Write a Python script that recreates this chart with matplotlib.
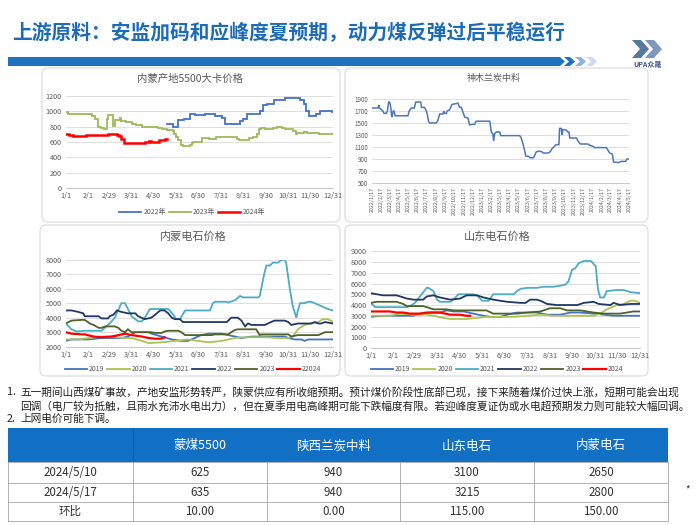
import matplotlib.pyplot as plt
from matplotlib.patches import Rectangle, FancyBboxPatch, Polygon
import pandas as pd

plt.rcParams['font.family'] = ['Noto Sans CJK SC', 'DejaVu Sans']

W, H = 700, 525

# ---- data ----
title = '上游原料：安监加码和应峰度夏预期，动力煤反弹过后平稳运行'
note1 = '五一期间山西煤矿事故，产地安监形势转严，陕蒙供应有所收缩预期。预计煤价阶段性底部已现，接下来随着煤价过快上涨，短期可能会出现'
note2 = '回调（电厂较为抵触，且雨水充沛水电出力），但在夏季用电高峰期可能下跌幅度有限。若迎峰度夏证伪或水电超预期发力则可能较大幅回调。'
note3 = '上网电价可能下调。'

day_ticks = [0, 31, 59, 90, 120, 151, 181, 212, 243, 273, 304, 334, 365]
day_labels = ['1/1', '2/1', '2/29', '3/31', '4/30', '5/31', '6/30', '7/31',
              '8/31', '9/30', '10/31', '11/30', '12/31']

# 内蒙产地5500大卡价格 (day of year, price), step values
mm2022 = [(138, 840), (146, 790), (154, 890), (162, 900), (170, 970), (176, 950), (190, 960),
          (204, 940), (214, 910), (217, 840), (238, 870), (242, 900), (248, 960), (258, 970),
          (266, 1000), (270, 1080), (275, 1100), (284, 1150), (300, 1170), (320, 1150),
          (325, 1100), (328, 1000), (332, 940), (342, 960), (347, 1000), (363, 990), (365, 990)]
mm2023 = [(0, 990), (3, 970), (30, 960), (36, 940), (40, 900), (44, 800), (48, 780), (52, 770),
          (56, 900), (58, 950), (64, 940), (65, 810), (67, 890), (74, 910), (76, 880), (82, 860),
          (90, 840), (96, 820), (104, 800), (108, 790), (126, 780), (132, 770), (138, 760),
          (146, 740), (148, 700), (151, 660), (154, 620), (157, 560), (160, 550), (170, 560),
          (172, 590), (174, 600), (186, 650), (195, 640), (205, 660), (212, 670), (228, 660),
          (234, 640), (237, 620), (245, 630), (250, 650), (256, 660), (261, 700), (264, 770),
          (267, 780), (272, 770), (283, 780), (288, 800), (296, 780), (300, 770), (311, 740),
          (314, 710), (316, 720), (326, 730), (330, 720), (346, 710), (358, 700), (365, 700)]
mm2024 = [(0, 700), (5, 690), (10, 680), (28, 690), (58, 700), (70, 690), (73, 680), (76, 640),
          (80, 590), (108, 600), (114, 610), (117, 600), (127, 620), (131, 630), (136, 640), (138, 640)]

# 神木兰炭中料 (days since 2022-01-17, price)
sm_start = '2022-01-17'
sm = [(0, 1750), (20, 1750), (23, 1800), (25, 1750), (36, 1700), (40, 1660), (47, 1660), (51, 1700),
      (55, 1850), (58, 1850), (61, 1800), (65, 1620), (67, 1600), (70, 1700), (73, 1700), (77, 1620),
      (119, 1620), (123, 1700), (130, 1750), (140, 1750), (145, 1850), (161, 1850), (164, 1760),
      (174, 1760), (180, 1700), (183, 1650), (187, 1530), (191, 1500), (213, 1500), (218, 1540),
      (224, 1650), (235, 1650), (238, 1700), (241, 1660), (246, 1660), (249, 1700), (257, 1720),
      (265, 1810), (285, 1830), (290, 1760), (296, 1760), (301, 1680), (307, 1600), (318, 1580),
      (323, 1470), (340, 1480), (345, 1530), (390, 1530), (395, 1350), (400, 1320), (403, 1200),
      (406, 1320), (412, 1350), (423, 1350), (426, 1290), (489, 1290), (494, 1250), (500, 1150),
      (505, 1050), (509, 950), (520, 940), (524, 920), (535, 920), (544, 1020), (555, 1030),
      (563, 1020), (566, 1000), (583, 1000), (590, 1020), (597, 1080), (602, 1100), (610, 1140),
      (619, 1140), (621, 1410), (627, 1410), (629, 1300), (632, 1390), (644, 1380), (648, 1350),
      (652, 1350), (655, 1250), (677, 1250), (682, 1200), (690, 1150), (715, 1150), (721, 1130),
      (732, 1110), (737, 1090), (776, 1090), (781, 1050), (787, 1000), (796, 980), (800, 850),
      (815, 840), (826, 860), (840, 860), (844, 900), (851, 900)]
sm_labels = ['2022/1/17', '2022/2/17', '2022/3/17', '2022/4/17', '2022/5/17', '2022/6/17',
             '2022/7/17', '2022/8/17', '2022/9/17', '2022/10/17', '2022/11/17', '2022/12/17',
             '2023/1/17', '2023/2/17', '2023/3/17', '2023/4/17', '2023/5/17', '2023/6/17',
             '2023/7/17', '2023/8/17', '2023/9/17', '2023/10/17', '2023/11/17', '2023/12/17',
             '2024/1/17', '2024/2/17', '2024/3/17', '2024/4/17', '2024/5/17']

# 内蒙电石价格
nm2019 = [(0, 2400), (8, 2500), (31, 2500), (49, 2600), (76, 2600), (85, 2700), (92, 2900), (95, 3000),
          (113, 3000), (117, 2900), (131, 2700), (145, 2500), (158, 2400), (167, 2400), (176, 2600),
          (185, 2800), (195, 2900), (213, 2900), (222, 2800), (240, 2600), (254, 2700), (299, 2700),
          (304, 2600), (313, 2500), (322, 2500), (326, 2400), (331, 2500), (365, 2500)]
nm2020 = [(0, 2500), (17, 2500), (31, 2600), (49, 2700), (67, 2700), (76, 2600), (90, 2600), (104, 2400),
          (113, 2250), (131, 2300), (149, 2400), (167, 2500), (181, 2400), (195, 2300), (213, 2400),
          (231, 2600), (240, 2650), (276, 2650), (290, 2600), (304, 2600), (310, 2700), (317, 3200),
          (326, 3500), (335, 3600), (345, 3700), (351, 3900), (358, 3900), (365, 3700)]
nm2021 = [(0, 3600), (8, 3200), (15, 3050), (26, 3100), (49, 3100), (51, 3200), (60, 3600), (67, 4000),
          (76, 5000), (81, 5000), (85, 4600), (90, 4100), (95, 3900), (99, 3750), (104, 3750), (108, 4000),
          (115, 4600), (140, 4600), (142, 4500), (147, 4200), (151, 3900), (156, 3900), (163, 4500),
          (197, 4500), (201, 5000), (204, 5100), (220, 5100), (222, 5050), (231, 5200), (238, 5500),
          (242, 5400), (263, 5400), (265, 5500), (267, 6000), (271, 7000), (274, 7600), (279, 7600),
          (283, 7800), (290, 7800), (295, 8000), (299, 8000), (301, 7800), (306, 6000), (310, 4800),
          (315, 4000), (317, 4500), (320, 5000), (326, 5000), (331, 5100), (335, 5100), (340, 5000),
          (349, 4800), (358, 4600), (365, 4500)]
nm2022 = [(0, 4500), (8, 4500), (17, 4400), (24, 4300), (26, 4100), (45, 4100), (49, 3950), (58, 3950),
          (60, 4100), (65, 4200), (70, 4500), (76, 4400), (85, 4300), (95, 4300), (99, 4100), (108, 3900),
          (117, 4000), (122, 4200), (129, 4500), (135, 4500), (140, 4300), (145, 4000), (149, 3900),
          (156, 3900), (160, 3700), (220, 3700), (222, 3800), (226, 4000), (235, 4000), (240, 3800),
          (245, 3400), (249, 3600), (254, 3500), (272, 3500), (276, 3600), (285, 3800), (299, 3800),
          (304, 3700), (308, 3500), (317, 3600), (335, 3600), (340, 3700), (345, 3600), (349, 3600),
          (354, 3700), (365, 3600)]
nm2023 = [(0, 3600), (8, 3800), (22, 3850), (26, 3850), (33, 3600), (38, 3500), (45, 3300), (49, 3300),
          (54, 3400), (67, 3400), (72, 3300), (76, 3100), (81, 3000), (85, 3200), (90, 3000), (117, 3000),
          (122, 2950), (131, 2950), (135, 3050), (140, 3100), (154, 3100), (158, 3000), (163, 2800),
          (199, 2800), (204, 2850), (222, 2850), (226, 3000), (231, 3150), (235, 3200), (260, 3200),
          (265, 2800), (267, 2850), (304, 2850), (308, 2700), (317, 2800), (345, 2800), (354, 3000),
          (365, 3000)]
nm2024 = [(0, 3000), (8, 2900), (22, 2850), (26, 2850), (38, 2700), (49, 2650), (63, 2700), (72, 2800),
          (81, 2900), (90, 2800), (104, 2700), (113, 2600), (122, 2550), (129, 2550), (133, 2600), (135, 2650)]

# 山东电石价格
sd2019 = [(0, 2900), (17, 3000), (58, 3000), (67, 3200), (81, 3300), (94, 3300), (103, 3500), (112, 3400),
          (126, 3400), (139, 3200), (153, 3000), (162, 2900), (176, 2900), (185, 3100), (198, 3300),
          (225, 3300), (239, 3100), (257, 3100), (271, 3300), (284, 3300), (302, 3200), (316, 3100),
          (329, 3000), (365, 3000)]
sd2020 = [(0, 3000), (26, 3000), (40, 3200), (58, 3100), (76, 3100), (85, 3000), (99, 2800), (108, 2700),
          (130, 2700), (144, 2800), (157, 2900), (194, 2900), (212, 3000), (230, 3100), (248, 3000),
          (302, 3000), (311, 3200), (320, 3600), (327, 3800), (334, 4000), (343, 4100), (352, 4400),
          (358, 4400), (365, 4200)]
sd2021 = [(0, 4200), (6, 3800), (49, 3800), (53, 3900), (60, 4200), (69, 5000), (76, 5600), (78, 5600),
          (85, 5300), (90, 4500), (94, 4300), (108, 4300), (112, 4500), (119, 5000), (139, 5000),
          (144, 4900), (151, 4400), (160, 4400), (166, 5000), (194, 5000), (198, 5300), (203, 5500),
          (212, 5600), (225, 5600), (234, 5700), (248, 5700), (257, 5800), (264, 5900), (268, 6200),
          (273, 7300), (277, 7400), (282, 7900), (289, 8100), (298, 8100), (300, 8000), (305, 7600),
          (308, 5500), (311, 4700), (316, 4700), (320, 5300), (334, 5400), (343, 5400), (352, 5200),
          (365, 5100)]
sd2022 = [(0, 5100), (17, 4900), (35, 4900), (40, 4800), (49, 4600), (58, 4500), (71, 4500), (76, 4800),
          (85, 4900), (94, 4700), (108, 4500), (121, 4600), (130, 4900), (144, 4900), (153, 4700),
          (166, 4500), (185, 4300), (203, 4200), (210, 4200), (216, 4500), (225, 4500), (230, 4400),
          (239, 4100), (252, 4000), (280, 4000), (289, 4200), (302, 4300), (309, 4100), (325, 4000),
          (329, 4200), (338, 4000), (352, 4100), (365, 4100)]
sd2023 = [(0, 4200), (8, 4300), (35, 4300), (44, 4100), (49, 3900), (71, 3900), (76, 3800), (85, 3600),
          (103, 3600), (112, 3500), (157, 3500), (166, 3200), (198, 3200), (212, 3300), (230, 3400),
          (243, 3700), (257, 3700), (266, 3500), (284, 3500), (302, 3300), (316, 3200), (338, 3200),
          (356, 3400), (365, 3400)]
sd2024 = [(0, 3400), (26, 3400), (35, 3300), (44, 3300), (53, 3200), (67, 3200), (76, 3300), (94, 3300),
          (108, 3100), (121, 3100), (130, 3000), (135, 3000)]

tbl_cols = ['蒙煤5500', '陕西兰炭中料', '山东电石', '内蒙电石']
tbl_rows = ['2024/5/10', '2024/5/17', '环比']
tbl_0510 = [625, 940, 3100, 2650]
tbl_0517 = [635, 940, 3215, 2800]

c19, c20, c21, c22, c23, c24 = '#4472C4', '#A9C451', '#4BACC6', '#1F3864', '#4F6228', '#FF0000'
grey = '#595959'


def box(x0, y0, x1, y1):
    return [x0 / W, 1 - y1 / H, (x1 - x0) / W, (y1 - y0) / H]


def style(ax, lo, hi, step):
    ax.set_ylim(lo, hi)
    ax.set_yticks(range(lo, hi + 1, step))
    ax.grid(axis='y', color='#D9D9D9', lw=0.6)
    ax.set_axisbelow(True)
    for s in ['top', 'right', 'left']:
        ax.spines[s].set_visible(False)
    ax.spines['bottom'].set_color('#BFBFBF')
    ax.spines['bottom'].set_linewidth(0.6)
    ax.tick_params(length=0, labelsize=5.2, labelcolor=grey, pad=3)
    ax.patch.set_alpha(0)


def line(ax, pts, color, label, lw=1.3, steps=False):
    x = [p[0] for p in pts]
    y = [p[1] for p in pts]
    ax.plot(x, y, color=color, lw=lw, label=label,
            drawstyle='steps-post' if steps else 'default', solid_joinstyle='miter')


def legend(ax, cx, cy):
    lg = ax.legend(loc='center', bbox_to_anchor=(cx / W, 1 - cy / H), bbox_transform=fig.transFigure,
                   ncol=6, frameon=False, fontsize=5, handlelength=3.2, columnspacing=0.4,
                   handletextpad=0.3, borderpad=0)
    for t in lg.get_texts():
        t.set_color(grey)


fig = plt.figure(figsize=(7, 5.25), dpi=100)
bg = fig.add_axes([0, 0, 1, 1])
bg.set_xlim(0, W)
bg.set_ylim(H, 0)
bg.axis('off')

# header
bg.text(12, 33, title, fontsize=14.2, fontweight='bold', color='#1B6BB7', va='center', ha='left')
bg.add_patch(Polygon([(8, 57), (560, 57), (565, 61.5), (560, 66), (8, 66)], fc='#1F70BD', ec='none'))
for x0, c in [(564, '#1F70BD'), (575, '#8EB4E3'), (586, '#CADCF1')]:
    bg.add_patch(Polygon([(x0, 57), (x0 + 6, 57), (x0 + 11, 61.5), (x0 + 6, 66), (x0, 66), (x0 + 5, 61.5)],
                         fc=c, ec='none'))
# logo
bg.add_patch(Polygon([(632, 40), (641, 40), (649, 49), (641, 58), (632, 58), (640, 49)], fc='#56799F', ec='none'))
bg.add_patch(Polygon([(645, 40), (654, 40), (662, 49), (654, 58), (645, 58), (653, 49)], fc='#7C98BA', ec='none'))
bg.text(648, 64, 'UPA众晟', fontsize=5, color='#3A5A8C', ha='center', va='center', fontweight='bold')

# chart panels
for x0, y0, x1, y1 in [(42, 68, 340, 222), (345, 68, 648, 222), (40, 225, 340, 376), (345, 225, 648, 376)]:
    bg.add_patch(FancyBboxPatch((x0, y0), x1 - x0, y1 - y0, boxstyle='round,pad=0,rounding_size=6',
                                fc='white', ec='#D9D9D9', lw=0.8))
bg.text(190, 79, '内蒙产地5500大卡价格', fontsize=7.5, color=grey, ha='center', va='center')
bg.text(494, 78, '神木兰炭中料', fontsize=6.5, color=grey, ha='center', va='center')
bg.text(193, 237, '内蒙电石价格', fontsize=8, color=grey, ha='center', va='center')
bg.text(497, 237, '山东电石价格', fontsize=8, color=grey, ha='center', va='center')

# panel 1
ax1 = fig.add_axes(box(65.7, 96, 333, 188))
style(ax1, 0, 1200, 200)
line(ax1, mm2022, '#4472C4', '2022年', steps=True)
line(ax1, mm2023, '#9BBB59', '2023年', steps=True)
line(ax1, mm2024, c24, '2024年', lw=1.8, steps=True)
ax1.set_xlim(0, 365)
ax1.set_xticks(day_ticks, day_labels)
legend(ax1, 192, 212)

# panel 2
ax2 = fig.add_axes(box(372, 99, 629, 183))
style(ax2, 500, 1900, 200)
line(ax2, sm, '#4A78B8', '神木兰炭中料', lw=1.1)
sm_pos = (pd.to_datetime(sm_labels) - pd.Timestamp(sm_start)).days
ax2.set_xlim(0, 851)
ax2.set_xticks(sm_pos, sm_labels, rotation=90, fontsize=3.8)
ax2.tick_params(axis='y', labelsize=4.5)

# panel 3
ax3 = fig.add_axes(box(65.7, 259.7, 333, 346.7))
style(ax3, 2000, 8000, 1000)
for pts, c, lab in [(nm2019, c19, '2019'), (nm2020, c20, '2020'), (nm2021, c21, '2021'),
                    (nm2022, c22, '2022'), (nm2023, c23, '2023')]:
    line(ax3, pts, c, lab)
line(ax3, nm2024, c24, '22024', lw=1.6)
ax3.set_xlim(0, 365)
ax3.set_xticks(day_ticks, day_labels)
legend(ax3, 193, 369)

# panel 4
ax4 = fig.add_axes(box(370.7, 251.3, 640, 348))
style(ax4, 0, 9000, 1000)
for pts, c, lab in [(sd2019, c19, '2019'), (sd2020, c20, '2020'), (sd2021, c21, '2021'),
                    (sd2022, c22, '2022'), (sd2023, c23, '2023')]:
    line(ax4, pts, c, lab)
line(ax4, sd2024, c24, '2024', lw=1.6)
ax4.set_xlim(0, 365)
ax4.set_xticks(day_ticks, day_labels)
legend(ax4, 497, 369)

# notes
fs = 7.7
bg.text(7, 392, '1.', fontsize=fs, color='#222222', va='center')
bg.text(20, 392, note1, fontsize=fs, color='#222222', va='center')
bg.text(20, 406, note2, fontsize=fs, color='#222222', va='center')
bg.text(7, 419, '2.', fontsize=fs, color='#222222', va='center')
bg.text(20, 419, note3, fontsize=fs, color='#222222', va='center')

# table
cols = [8, 133, 267, 400, 534, 668]
rows = [428, 462, 483, 502, 521]
bg.add_patch(Rectangle((cols[0], rows[0]), cols[-1] - cols[0], rows[1] - rows[0], fc='#1170C4', ec='none'))
bg.plot([cols[1], cols[1]], [rows[0], rows[1]], color='#0D5A9E', lw=0.7)
for y in rows[1:]:
    bg.plot([cols[0], cols[-1]], [y, y], color='#A6A6A6', lw=0.6)
for x in cols:
    bg.plot([x, x], [rows[1], rows[-1]], color='#A6A6A6', lw=0.6)
for i, name in enumerate(tbl_cols):
    bg.text((cols[i + 1] + cols[i + 2]) / 2, (rows[0] + rows[1]) / 2 + 1, name, fontsize=9,
            color='white', ha='center', va='center')
tbl_vals = [[str(v) for v in tbl_0510], [str(v) for v in tbl_0517],
            [f'{b - a:.2f}' for a, b in zip(tbl_0510, tbl_0517)]]
for r, lab in enumerate(tbl_rows):
    yc = (rows[r + 1] + rows[r + 2]) / 2
    bg.text((cols[0] + cols[1]) / 2, yc, lab, fontsize=8.3, color='#333333', ha='center', va='center')
    for i, v in enumerate(tbl_vals[r]):
        bg.text((cols[i + 1] + cols[i + 2]) / 2, yc, v, fontsize=8.3, color='#333333', ha='center', va='center')
bg.text(688, 489, '*', fontsize=7, color='#333333', ha='center', va='center')

fig.savefig('out.png', dpi=100)
